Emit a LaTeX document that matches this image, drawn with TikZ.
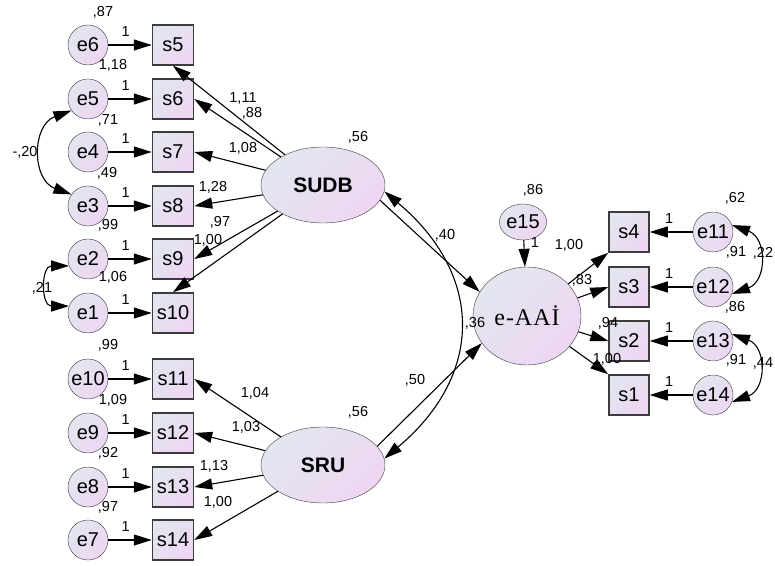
\documentclass[tikz,border=0pt]{standalone}
\usepackage{fontspec}
\setmainfont{Liberation Sans}
\newfontfamily\serifaai[LetterSpace=4]{Liberation Serif}
\usetikzlibrary{arrows.meta,shapes.geometric}
\definecolor{semA}{RGB}{226,230,240}
\definecolor{semB}{RGB}{238,214,242}
\definecolor{semLine}{RGB}{60,60,60}
\begin{document}
\begin{tikzpicture}[
  x=1pt, y=1pt,
  font=\fontsize{14.5}{15}\selectfont,
  semfill/.style={top color=semA, bottom color=semB, shading angle=45},
  err/.style={circle, draw=semLine, semfill, minimum size=40pt, inner sep=0pt,
    font=\fontsize{20}{20}\selectfont},
  obs/.style={rectangle, draw=semLine, line width=1.5pt, semfill,
    minimum width=41pt, minimum height=40pt, inner sep=0pt,
    font=\fontsize{20}{20}\selectfont},
  lat/.style={ellipse, draw=semLine, semfill, minimum width=124pt,
    minimum height=76pt, inner sep=0pt,
    font=\fontsize{21}{21}\selectfont\bfseries},
  reg/.style={line width=1.1pt, -{Triangle[length=18pt,width=11pt]}},
  cov/.style={line width=1.1pt,
    {Triangle[length=18pt,width=11pt]}-{Triangle[length=18pt,width=11pt]}},
  est/.style={inner sep=0pt}
]
\useasboundingbox (0,0) rectangle (775,565);

% ── Left indicators with their error terms ─────────────────────
\foreach \e/\s/\Y in {e6/s5/520, e5/s6/466, e4/s7/413, e3/s8/359,
                      e2/s9/306, e1/s10/252, e10/s11/186, e9/s12/132,
                      e8/s13/78, e7/s14/25}{
  \node[err] (\e) at (88,\Y) {\e};
  \node[obs] (\s) at (173,\Y) {\s};
  \draw[reg] (\e) -- node[est, above=8pt, pos=0.4] (one\s) {1} (\s);
}

% ── Right indicators (arrows point left) ───────────────────────
\foreach \e/\s/\Y in {e11/s4/333, e12/s3/278, e13/s2/224, e14/s1/170}{
  \node[err] (\e) at (713,\Y) {\e};
  \node[obs, minimum width=40pt] (\s) at (629,\Y) {\s};
  \draw[reg] (\e) -- node[est, above=8pt, pos=0.55] (one\s) {1} (\s);
}

% ── Latent variables ───────────────────────────────────────────
\node[lat] (SUDB) at (323,380) {SUDB};
\node[lat] (SRU) at (323,100) {SRU};
\node[lat, minimum width=108pt, minimum height=98pt,
  font=\serifaai\fontsize{24}{24}\selectfont] (eAAI) at (527,249) {e-AAİ};
\node[err, ellipse, minimum width=44pt, minimum height=36pt] (e15)
  at (523,343) {e15};

% ── Loadings ───────────────────────────────────────────────────
\draw[reg] (SUDB) -- (s5.south);
\draw[reg] (SUDB) -- (s6.east);
\draw[reg] (SUDB) -- (s7.east);
\draw[reg] (SUDB) -- (s8.east);
\draw[reg] (SUDB) -- (s9.east);
\draw[reg] (SUDB) -- (s10.north);
\draw[reg] (SRU) -- (s11.east);
\draw[reg] (SRU) -- (s12.east);
\draw[reg] (SRU) -- (s13.east);
\draw[reg] (SRU) -- (s14.east);
\draw[reg] (eAAI) -- (s4.south west);
\draw[reg] (eAAI) -- (s3.west);
\draw[reg] (eAAI) -- (s2.west);
\draw[reg] (eAAI) -- (s1.north west);

% ── Structural paths and covariances ───────────────────────────
\draw[reg] (SUDB.-15) -- (eAAI.153);
\draw[reg] (SRU.19) -- (eAAI.211);
\draw[reg] (e15) -- (eAAI);
\draw[cov] (SUDB.-6) to[out=-40, in=40, looseness=1.25] (SRU.6);
\draw[cov] (e5.215) to[bend right=70, looseness=1.3] (e3.145);
\draw[cov] (e2.200) to[bend right=90, looseness=1.8] (e1.160);
\draw[cov] (e11.20) to[bend left=70, looseness=1.4] (e12.-20);
\draw[cov] (e13.20) to[bend left=70, looseness=1.4] (e14.-20);

% ── Variances ──────────────────────────────────────────────────
\node[est] (v6) at (103,553) {,87};
\node[est] (v5) at (113,500) {1,18};
\node[est] (v4) at (108,445) {,71};
\node[est] (v3) at (107,392) {,49};
\node[est] (v2) at (108,340) {,99};
\node[est] (v1) at (113,288) {1,06};
\node[est] (v10) at (108,220) {,99};
\node[est] (v9) at (113,165) {1,09};
\node[est] (v8) at (108,112) {,92};
\node[est] (v7) at (108,58) {,97};
\node[est] (v11) at (735,367) {,62};
\node[est] (v12) at (736,313) {,91};
\node[est] (v13) at (735,258) {,86};
\node[est] (v14) at (736,205) {,91};
\node[est] (v15) at (533,375) {,86};
\node[est] (vSUDB) at (358,428) {,56};
\node[est] (vSRU) at (358,153) {,56};
\node[est] (r2) at (475,242) {,36};

% ── Estimates on paths ─────────────────────────────────────────
\node[est] (l5) at (243,467) {1,11};
\node[est] (l6) at (252,452) {,88};
\node[est] (l7) at (243,417) {1,08};
\node[est] (l8) at (213,378) {1,28};
\node[est] (l9) at (220,343) {,97};
\node[est] (l10) at (208,325) {1,00};
\node[est] (l11) at (255,172) {1,04};
\node[est] (l12) at (246,138) {1,03};
\node[est] (l13) at (214,99) {1,13};
\node[est] (l14) at (218,63) {1,00};
\node[est] (l4) at (569,320) {1,00};
\node[est] (l3) at (582,285) {,83};
\node[est] (l2) at (608,242) {,94};
\node[est] (l1) at (607,206) {1,00};
\node[est] (one15) at (535,322) {1};
\node[est] (bSUDB) at (445,330) {,40};
\node[est] (bSRU) at (415,185) {,50};
\node[est] (c53) at (25,413) {-,20};
\node[est] (c21) at (42,277) {,21};
\node[est] (c1112) at (763,312) {,22};
\node[est] (c1314) at (763,202) {,44};

\end{tikzpicture}
\end{document}
